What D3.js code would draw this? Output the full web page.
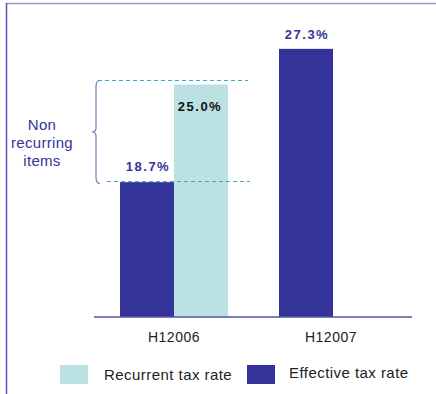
<!DOCTYPE html>
<html>
<head>
<meta charset="utf-8">
<script src="https://cdn.jsdelivr.net/npm/d3@7"></script>
<style>
  body { margin: 0; background: #fff; }
  svg { display: block; }
  text { font-family: "Liberation Sans", Arial, sans-serif; }
</style>
</head>
<body>
<div id="chart"></div>
<script>
// periods and rates
const periods = ["H12006", "H12007"];
const effective = [18.7, 27.3];
const recurrent = [25.0, null];
const seriesNames = ["Recurrent tax rate", "Effective tax rate"];

const W = 436, H = 394;
const darkBlue = "#333399";
const teal = "#bce1e3";

const svg = d3.select("#chart").append("svg")
    .attr("width", W)
    .attr("height", H);

// frame (top + left)
svg.append("line").attr("x1", 6).attr("x2", W).attr("y1", 3.5).attr("y2", 3.5)
    .attr("stroke", "#9999cc").attr("stroke-width", 1.5);
svg.append("line").attr("x1", 6.5).attr("x2", 6.5).attr("y1", 3).attr("y2", H)
    .attr("stroke", "#5555bb").attr("stroke-width", 1.5);

// each period gets a band, the bars sit at the left part of it
const x = d3.scaleBand().domain(periods).range([94, 412]);
const barW = 54;
// value axis doesn't start at zero in the original
const y = d3.scaleLinear().domain([10, 30]).range([317, 7]);

const effX = i => [120, 279][i];
const recX = i => effX(i) + barW;
const catX = i => x(periods[i]) + [80, 78][i];

const g = svg.append("g");

g.selectAll("rect.eff")
    .data(effective)
    .enter().append("rect")
    .attr("class", "eff")
    .attr("x", (d, i) => effX(i))
    .attr("y", d => y(d))
    .attr("width", barW)
    .attr("height", d => y(10) - y(d))
    .attr("fill", darkBlue);

g.selectAll("rect.rec")
    .data(recurrent.filter(d => d != null))
    .enter().append("rect")
    .attr("class", "rec")
    .attr("x", (d, i) => recX(i))
    .attr("y", d => y(d))
    .attr("width", barW)
    .attr("height", d => y(10) - y(d))
    .attr("fill", teal);

// baseline
svg.append("line").attr("x1", 94).attr("x2", 412).attr("y1", y(10)).attr("y2", y(10))
    .attr("stroke", "#5555aa").attr("stroke-width", 1.5);

// dashed guides for non recurring items
const topY = Math.round(y(recurrent[0])) - 4.5;
const botY = Math.round(y(effective[0])) - 0.5;
svg.append("line").attr("x1", 98).attr("x2", 248)
    .attr("y1", topY).attr("y2", topY)
    .attr("stroke", "#3aaac8").attr("stroke-width", 1).attr("stroke-dasharray", "4,3");
svg.append("line").attr("x1", 107).attr("x2", 250)
    .attr("y1", botY).attr("y2", botY)
    .attr("stroke", "#3aaac8").attr("stroke-width", 1).attr("stroke-dasharray", "4,3");

// curly brace
const bt = topY, bb = botY + 2, bm = (bt + bb) / 2;
const bx = 96;
svg.append("path")
    .attr("d", `M ${bx + 4},${bt} Q ${bx},${bt} ${bx},${bt + 6} L ${bx},${bm - 4} Q ${bx},${bm} ${bx - 4},${bm}
                Q ${bx},${bm} ${bx},${bm + 4} L ${bx},${bb - 6} Q ${bx},${bb} ${bx + 4},${bb}`)
    .attr("fill", "none").attr("stroke", "#7777bb").attr("stroke-width", 1.2);

// brace label
svg.append("text")
    .attr("x", 42).attr("y", 130)
    .attr("text-anchor", "middle")
    .attr("fill", darkBlue)
    .style("font-size", "15px")
    .style("letter-spacing", "0.3px")
    .selectAll("tspan")
    .data(["Non", "recurring", "items"])
    .enter().append("tspan")
    .attr("x", 42)
    .attr("dy", (d, i) => i == 0 ? 0 : 18)
    .text(d => d);

// value labels
const lblStyle = s => s.attr("text-anchor", "middle")
    .style("font-size", "13px").style("font-weight", "bold").style("letter-spacing", "1.5px");

svg.append("text").call(lblStyle)
    .attr("x", effX(0) + barW / 2 + 1).attr("y", 171)
    .attr("fill", darkBlue).text(effective[0].toFixed(1) + "%");
svg.append("text").call(lblStyle)
    .attr("x", recX(0) + barW / 2 - 1).attr("y", 111)
    .attr("fill", "#111").text(recurrent[0].toFixed(1) + "%");
svg.append("text").call(lblStyle)
    .attr("x", effX(1) + barW / 2 + 1).attr("y", 39)
    .attr("fill", darkBlue).text(effective[1].toFixed(1) + "%");

// category labels
svg.selectAll("text.cat")
    .data(periods)
    .enter().append("text")
    .attr("class", "cat")
    .attr("x", (d, i) => catX(i))
    .attr("y", 342)
    .attr("text-anchor", "middle")
    .attr("fill", "#222")
    .style("font-size", "14px")
    .style("letter-spacing", "0.5px")
    .text(d => d);

// legend
const legend = svg.selectAll("g.leg")
    .data(seriesNames)
    .enter().append("g")
    .attr("class", "leg")
    .attr("transform", (d, i) => `translate(${i == 0 ? 60 : 247},365)`);
legend.append("rect")
    .attr("width", 28).attr("height", 19)
    .attr("fill", (d, i) => i == 0 ? teal : darkBlue);
legend.append("text")
    .attr("x", (d, i) => i == 0 ? 44 : 42)
    .attr("y", (d, i) => i == 0 ? 15 : 13)
    .attr("fill", "#222")
    .style("font-size", "15px")
    .style("letter-spacing", "0.45px")
    .text(d => d);
</script>
</body>
</html>
